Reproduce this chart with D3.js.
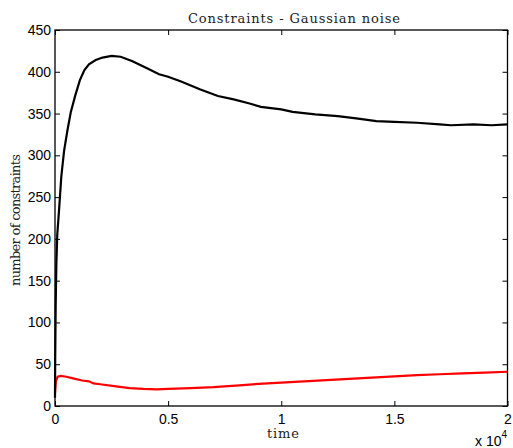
<!DOCTYPE html>
<html>
<head>
<meta charset="utf-8">
<script src="https://cdn.jsdelivr.net/npm/d3@7"></script>
<style>
  body { margin: 0; background: #fff; }
  .tick text { font-family: "Liberation Sans", Arial, sans-serif; font-size: 14px; fill: #000; }
  .tick line { stroke: #000; }
</style>
</head>
<body>
<div id="chart"></div>
<script>
// black curve: total constraints
let timeBlack = [0, 10, 30, 60, 100, 180, 280, 400, 550, 700, 900, 1100, 1300, 1500, 1800, 2100, 2500, 2900, 3400, 4000, 4600, 5000, 5600, 6400, 7200, 7900, 8600, 9100, 10000, 10500, 11500, 12500, 13400, 14200, 15000, 16000, 17000, 17500, 18500, 19300, 20000];
let valuesBlack = [10, 60, 120, 170, 205, 235, 275, 305, 330, 352, 372, 390, 402, 409, 414, 417, 419, 418, 413, 405, 397, 394, 388, 379, 371, 367, 362, 358, 355, 352, 349, 347, 344, 341, 340, 339, 337, 336, 337, 336, 337];

// red curve
let timeRed = [0, 40, 120, 250, 500, 800, 1200, 1500, 1700, 2000, 2700, 3300, 3900, 4500, 5000, 6000, 7000, 8000, 9000, 10000, 11000, 12000, 13000, 14000, 15000, 16000, 17000, 18000, 19000, 20000];
let valuesRed = [15, 30, 35, 36, 35, 33, 30.5, 29.5, 27, 26, 23.5, 21.5, 20.5, 20, 20.5, 21.5, 22.5, 24.5, 26.5, 28, 29.5, 31, 32.5, 34, 35.5, 37, 38, 39, 40, 41];

let xTicks = [0, 5000, 10000, 15000, 20000];
let yTicks = [0, 50, 100, 150, 200, 250, 300, 350, 400, 450];

let svgWidth = 513;
let svgHeight = 448;
let plotLeft = 55, plotRight = 507.5, plotTop = 30, plotBottom = 406;

let svg = d3.select("#chart")
  .append("svg")
  .attr("width", svgWidth)
  .attr("height", svgHeight)

let xScale = d3.scaleLinear().domain([0, 20000]).range([plotLeft, plotRight])
let yScale = d3.scaleLinear().domain([0, 450]).range([plotBottom, plotTop])

// axes with inward ticks, box drawn separately
let xAxis = d3.axisBottom(xScale).tickValues(xTicks).tickSize(-5).tickSizeOuter(0).tickPadding(8)
  .tickFormat(d => d3.format("")(d / 10000))
let yAxis = d3.axisLeft(yScale).tickValues(yTicks).tickSize(-5).tickSizeOuter(0).tickPadding(4)
let xTop = d3.axisTop(xScale).tickValues(xTicks).tickSize(-5).tickSizeOuter(0).tickFormat("")
let yRight = d3.axisRight(yScale).tickValues(yTicks).tickSize(-5).tickSizeOuter(0).tickFormat("")

svg.append("g").attr("transform", `translate(0,${plotBottom})`).call(xAxis).call(g => g.select(".domain").remove())
svg.append("g").attr("transform", `translate(${plotLeft},0)`).call(yAxis).call(g => g.select(".domain").remove())
svg.append("g").attr("transform", `translate(0,${plotTop})`).call(xTop).call(g => g.select(".domain").remove())
svg.append("g").attr("transform", `translate(${plotRight},0)`).call(yRight).call(g => g.select(".domain").remove())

svg.append("rect")
  .attr("x", plotLeft).attr("y", plotTop)
  .attr("width", plotRight - plotLeft).attr("height", plotBottom - plotTop)
  .attr("fill", "none").attr("stroke", "#000").attr("stroke-width", 1.3)

let line = d3.line()
  .x(d => xScale(d[0]))
  .y(d => yScale(d[1]))

svg.append("path")
  .datum(d3.zip(timeRed, valuesRed))
  .attr("d", line)
  .attr("fill", "none").attr("stroke", "#ff0000").attr("stroke-width", 2.2)

svg.append("path")
  .datum(d3.zip(timeBlack, valuesBlack))
  .attr("d", line)
  .attr("fill", "none").attr("stroke", "#000").attr("stroke-width", 2.2)

// labels (Computer Modern look: serif, widely spaced)
let serif = "'DejaVu Serif', 'Liberation Serif', serif";
svg.append("text")
  .attr("x", 294).attr("y", 23)
  .attr("text-anchor", "middle")
  .attr("textLength", 212).attr("lengthAdjust", "spacing")
  .style("font-family", serif).style("font-size", "13px").style("fill", "#222")
  .text("Constraints - Gaussian noise")

svg.append("text")
  .attr("x", 283).attr("y", 438)
  .attr("text-anchor", "middle")
  .attr("textLength", 32).attr("lengthAdjust", "spacing")
  .style("font-family", serif).style("font-size", "13px").style("fill", "#222")
  .text("time")

svg.append("text")
  .attr("transform", `translate(20,220) rotate(-90)`)
  .attr("text-anchor", "middle")
  .attr("textLength", 132).attr("lengthAdjust", "spacing")
  .style("font-family", serif).style("font-size", "13px").style("fill", "#222")
  .text("number of constraints")

let mult = svg.append("text")
  .attr("x", 475).attr("y", 446)
  .style("font-family", "'Liberation Sans', Arial, sans-serif").style("font-size", "14px")
mult.append("tspan").text("x 10")
mult.append("tspan").attr("dy", -8).style("font-size", "10px").text("4")
</script>
</body>
</html>
